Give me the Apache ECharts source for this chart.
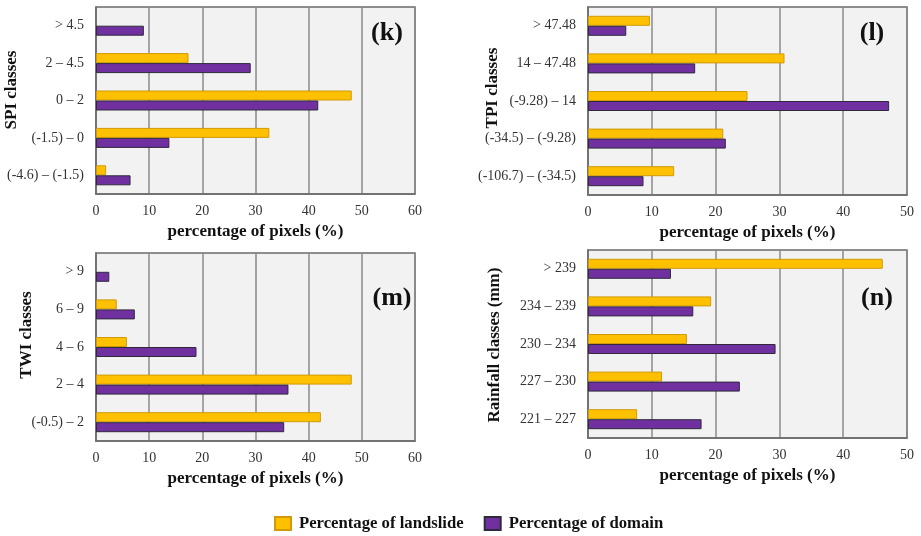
<!DOCTYPE html>
<html><head><meta charset="utf-8">
<script src="https://cdn.jsdelivr.net/npm/echarts@6/dist/echarts.min.js"></script>
<style>html,body{margin:0;padding:0;background:#fff}#c{width:921px;height:536px}</style>
</head><body><div id="c"></div>
<script>
// Categories listed bottom-to-top
const spiClasses = ['(-4.6) – (-1.5)', '(-1.5) – 0', '0 – 2', '2 – 4.5', '> 4.5'];
const spiLandslide = [1.9, 32.6, 48.1, 17.4, 0];
const spiDomain = [6.5, 13.8, 41.8, 29.1, 9.0];

const tpiClasses = ['(-106.7) – (-34.5)', '(-34.5) – (-9.28)', '(-9.28) – 14', '14 – 47.48', '> 47.48'];
const tpiLandslide = [13.5, 21.2, 25.0, 30.8, 9.7];
const tpiDomain = [8.7, 21.6, 47.2, 16.8, 6.0];

const twiClasses = ['(-0.5) – 2', '2 – 4', '4 – 6', '6 – 9', '> 9'];
const twiLandslide = [42.3, 48.1, 5.8, 3.9, 0];
const twiDomain = [35.4, 36.2, 18.9, 7.3, 2.5];

const rainClasses = ['221 – 227', '227 – 230', '230 – 234', '234 – 239', '> 239'];
const rainLandslide = [7.7, 11.6, 15.5, 19.3, 46.2];
const rainDomain = [17.8, 23.8, 29.4, 16.5, 13.0];

const xMaxes = [60, 50, 60, 50];
const xTicks = [10, 10, 10, 10];
const yTitles = ['SPI classes', 'TPI classes', 'TWI classes', 'Rainfall classes (mm)'];
const panelLabels = ['(k)', '(l)', '(m)', '(n)'];
const seriesNames = ['Percentage of landslide', 'Percentage of domain'];

const panels = [
  {cats: spiClasses, a: spiLandslide, b: spiDomain},
  {cats: tpiClasses, a: tpiLandslide, b: tpiDomain},
  {cats: twiClasses, a: twiLandslide, b: twiDomain},
  {cats: rainClasses, a: rainLandslide, b: rainDomain}
];

const gridPos = [
  {left: 96, top: 7, width: 319, height: 187},
  {left: 588, top: 7, width: 319, height: 188},
  {left: 96, top: 253, width: 319, height: 188},
  {left: 588, top: 250, width: 319, height: 188}
];
const yTitlePos = [[12, 90], [493, 88], [27, 335], [495, 345]];
const labelPos = [[387, 33], [872, 33], [392, 298], [877, 298]];

const SERIF = '"Liberation Serif", "DejaVu Serif", serif';
const YELLOW = '#FFC000', YELLOW_B = '#D09A08';
const PURPLE = '#7030A0', PURPLE_B = '#2E2A3C';

const grid = [], xAxis = [], yAxis = [], series = [], graphic = [];
panels.forEach((p, i) => {
  grid.push(Object.assign({show: true, backgroundColor: '#F2F2F2', borderColor: '#6b6b6b', borderWidth: 1.5, containLabel: false}, gridPos[i]));
  xAxis.push({
    type: 'value', gridIndex: i, min: 0, max: xMaxes[i], interval: xTicks[i],
    name: 'percentage of pixels (%)', nameLocation: 'middle', nameGap: 29,
    nameTextStyle: {fontFamily: SERIF, fontWeight: 'bold', fontSize: 17, color: '#111'},
    axisLine: {show: true, lineStyle: {color: '#6b6b6b', width: 1.5}},
    axisTick: {show: false},
    axisLabel: {fontFamily: SERIF, fontSize: 14, color: '#333', margin: 10},
    splitLine: {show: true, lineStyle: {color: '#8a8a8a', width: 1.5}}
  });
  yAxis.push({
    type: 'category', gridIndex: i, data: p.cats,
    axisLine: {show: true, lineStyle: {color: '#6b6b6b', width: 1.5}},
    axisTick: {show: false},
    axisLabel: {fontFamily: SERIF, fontSize: 14, color: '#333', margin: 12},
    splitLine: {show: false}
  });
  [p.a, p.b].forEach((vals, k) => {
    series.push({
      type: 'bar', name: seriesNames[k], xAxisIndex: i, yAxisIndex: i,
      data: vals.map(v => v === 0 ? null : v),
      barWidth: 10, barGap: '0%',
      itemStyle: {color: k === 0 ? YELLOW : PURPLE, borderColor: k === 0 ? YELLOW_B : PURPLE_B, borderWidth: 1},
      emphasis: {disabled: true}
    });
  });
  graphic.push({
    type: 'text', x: yTitlePos[i][0], y: yTitlePos[i][1], rotation: Math.PI / 2,
    style: {text: yTitles[i], fontFamily: SERIF, fontWeight: 'bold', fontSize: 17, fill: '#111', align: 'center', verticalAlign: 'middle'}
  });
  graphic.push({
    type: 'text', x: labelPos[i][0], y: labelPos[i][1],
    style: {text: panelLabels[i], fontFamily: SERIF, fontWeight: 'bold', fontSize: 26, fill: '#111', align: 'center', verticalAlign: 'middle'}
  });
});

const chart = echarts.init(document.getElementById('c'), null, {renderer: 'canvas'});
chart.setOption({
  animation: false,
  backgroundColor: '#fff',
  grid, xAxis, yAxis, series, graphic,
  legend: {
    data: seriesNames, left: 274, top: 515, padding: 0, itemWidth: 16, itemHeight: 13, itemGap: 20,
    icon: 'rect',
    textStyle: {fontFamily: SERIF, fontWeight: 'bold', fontSize: 16.7, color: '#111', padding: [0, 0, 0, 3]}
  }
});
</script></body></html>
